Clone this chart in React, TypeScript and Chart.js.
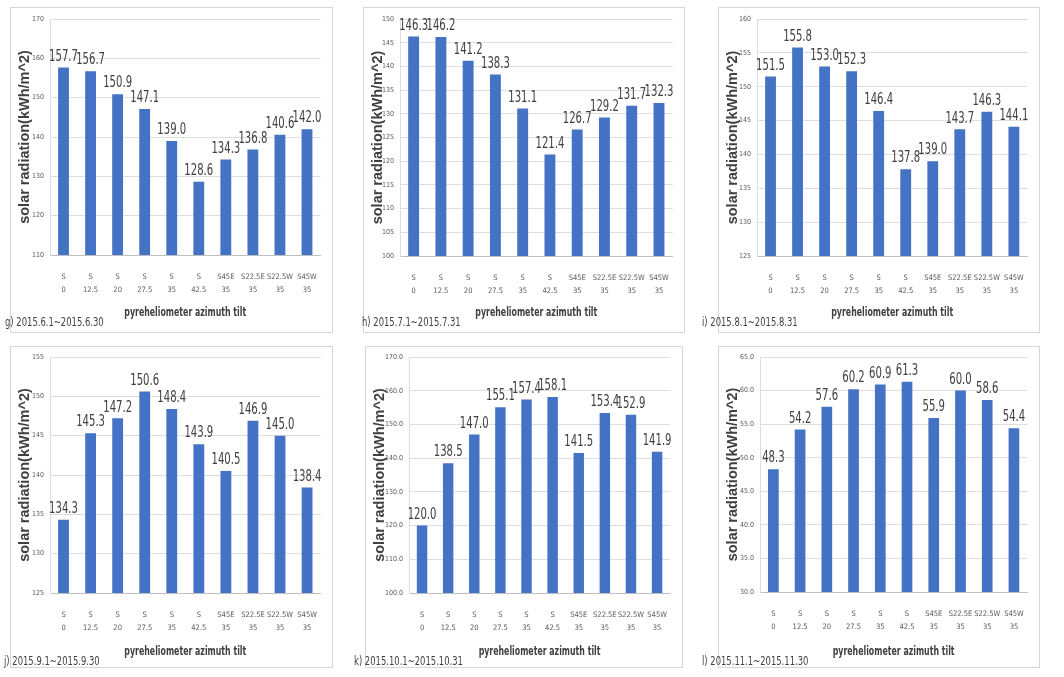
import React, { useEffect, useRef } from 'react';
import { Chart, registerables } from 'chart.js';

Chart.register(...registerables);

// ---------------- data ----------------
const categories: string[][] = [
  ['S', '0'], ['S', '12.5'], ['S', '20'], ['S', '27.5'], ['S', '35'], ['S', '42.5'],
  ['S45E', '35'], ['S22.5E', '35'], ['S22.5W', '35'], ['S45W', '35'],
];

const juneValues = [157.7, 156.7, 150.9, 147.1, 139.0, 128.6, 134.3, 136.8, 140.6, 142.0];
const julyValues = [146.3, 146.2, 141.2, 138.3, 131.1, 121.4, 126.7, 129.2, 131.7, 132.3];
const augustValues = [151.5, 155.8, 153.0, 152.3, 146.4, 137.8, 139.0, 143.7, 146.3, 144.1];
const septemberValues = [134.3, 145.3, 147.2, 150.6, 148.4, 143.9, 140.5, 146.9, 145.0, 138.4];
const octoberValues = [120.0, 138.5, 147.0, 155.1, 157.4, 158.1, 141.5, 153.4, 152.9, 141.9];
const novemberValues = [48.3, 54.2, 57.6, 60.2, 60.9, 61.3, 55.9, 60.0, 58.6, 54.4];

const captions = [
  'g) 2015.6.1~2015.6.30',
  'h) 2015.7.1~2015.7.31',
  'i) 2015.8.1~2015.8.31',
  'j) 2015.9.1~2015.9.30',
  'k) 2015.10.1~2015.10.31',
  'l) 2015.11.1~2015.11.30',
];

const yMins = [110, 100, 125, 125, 100, 30];
const yMaxs = [170, 150, 160, 155, 170, 65];
const ySteps = [10, 5, 5, 5, 10, 5];
const yDecimals = [0, 0, 0, 0, 1, 1];

const yTitle = 'solar radiation(kWh/m^2)';
const xTitle = 'pyreheliometer azimuth tilt';

const seriesList = [juneValues, julyValues, augustValues, septemberValues, octoberValues, novemberValues];

// ---------------- layout ----------------
type Rect = { l: number; t: number; r: number; b: number };
const boxes: Rect[] = [
  { l: 10, t: 7, r: 333, b: 333 },
  { l: 363, t: 7, r: 685, b: 333 },
  { l: 718, t: 7, r: 1040, b: 333 },
  { l: 10, t: 346, r: 333, b: 668 },
  { l: 365, t: 346, r: 683, b: 668 },
  { l: 718, t: 346, r: 1040, b: 668 },
];
const plots: Rect[] = [
  { l: 50, t: 19, r: 328, b: 255 },
  { l: 400, t: 19, r: 680, b: 256 },
  { l: 757, t: 19, r: 1033, b: 256 },
  { l: 50, t: 357, r: 330, b: 593 },
  { l: 409, t: 357, r: 680, b: 593 },
  { l: 760, t: 357, r: 1034, b: 592 },
];
const captionPos = [
  { x: 5, y: 314 },
  { x: 362, y: 314 },
  { x: 702, y: 314 },
  { x: 4, y: 653 },
  { x: 354, y: 653 },
  { x: 702, y: 653 },
];
const xTitleOffset = [20, 20, 20, 16, 16, 16];

const COND = "'DejaVu Sans Condensed', 'Liberation Sans Narrow', sans-serif";
const SANS = "'Liberation Sans', Arial, sans-serif";
const BAR = '#4472c4';
const TEXT = '#404040';

const valueLabels = {
  id: 'valueLabels',
  afterDatasetsDraw(chart: any) {
    const { ctx } = chart;
    const meta = chart.getDatasetMeta(0);
    const data = chart.data.datasets[0].data as number[];
    ctx.save();
    ctx.font = `16px ${COND}`;
    ctx.fillStyle = TEXT;
    ctx.textAlign = 'center';
    ctx.textBaseline = 'bottom';
    meta.data.forEach((el: any, i: number) => {
      ctx.save();
      ctx.translate(el.x, el.y - 3);
      ctx.scale(0.7, 1);
      ctx.fillText(Number(data[i]).toFixed(1), 0, 0);
      ctx.restore();
    });
    ctx.restore();
  },
};

const xAxisTitle = {
  id: 'xAxisTitle',
  afterDraw(chart: any, _args: any, opts: any) {
    const { ctx, chartArea } = chart;
    ctx.save();
    ctx.font = `bold 13px ${COND}`;
    ctx.fillStyle = TEXT;
    ctx.textAlign = 'center';
    ctx.textBaseline = 'middle';
    ctx.translate((chartArea.left + chartArea.right) / 2, chart.height - opts.offset);
    ctx.scale(0.67, 1);
    ctx.fillText(opts.text, 0, 0);
    ctx.restore();
  },
};

function Panel({ idx }: { idx: number }) {
  const ref = useRef<HTMLCanvasElement | null>(null);
  const box = boxes[idx];
  const plot = plots[idx];
  const w = box.r - box.l;
  const h = box.b - box.t;

  useEffect(() => {
    if (!ref.current) return;
    const dec = yDecimals[idx];
    const chart = new Chart(ref.current, {
      type: 'bar',
      data: {
        labels: categories,
        datasets: [
          {
            data: seriesList[idx],
            backgroundColor: BAR,
            borderWidth: 0,
            barPercentage: 0.4,
            categoryPercentage: 1,
          },
        ],
      },
      options: {
        responsive: false,
        animation: false,
        devicePixelRatio: 1,
        layout: {
          padding: { top: plot.t - box.t, right: box.r - plot.r, left: 0, bottom: 0 },
        },
        plugins: {
          legend: { display: false },
          tooltip: { enabled: false },
          xAxisTitle: { text: xTitle, offset: xTitleOffset[idx] },
        },
        scales: {
          x: {
            grid: { display: false, drawTicks: false },
            border: { display: true, color: '#bfbfbf', width: 1 },
            ticks: {
              color: '#595959',
              font: { family: COND, size: 7.5, lineHeight: 1.7 },
              padding: 16,
              maxRotation: 0,
              autoSkip: false,
            },
            afterFit: (s: any) => {
              s.height = box.b - plot.b;
            },
          },
          y: {
            min: yMins[idx],
            max: yMaxs[idx],
            grid: { color: '#dedede', drawTicks: false },
            border: { display: true, color: '#dedede' },
            ticks: {
              stepSize: ySteps[idx],
              color: '#595959',
              font: { family: COND, size: 7 },
              padding: 6,
              callback: (v: any) => Number(v).toFixed(dec),
            },
            title: {
              display: true,
              text: yTitle,
              color: TEXT,
              font: { family: SANS, size: 14.5, weight: 'bold' },
              padding: { top: 6, bottom: 0 },
            },
            afterFit: (s: any) => {
              s.width = plot.l - box.l;
            },
          },
        },
      },
      plugins: [valueLabels, xAxisTitle],
    } as any);
    return () => chart.destroy();
  }, [idx]);

  return (
    <>
      <div
        style={{
          position: 'absolute',
          left: box.l,
          top: box.t,
          width: w,
          height: h,
          boxSizing: 'border-box',
          border: '1px solid #d6d6d6',
        }}
      />
      <canvas
        ref={ref}
        width={w}
        height={h}
        style={{ position: 'absolute', left: box.l, top: box.t, width: w, height: h }}
      />
      <div
        style={{
          position: 'absolute',
          left: captionPos[idx].x,
          top: captionPos[idx].y,
          font: `13px ${COND}`,
          color: TEXT,
          whiteSpace: 'nowrap',
          lineHeight: '15px',
          transform: 'scaleX(0.72)',
          transformOrigin: 'left center',
        }}
      >
        {captions[idx]}
      </div>
    </>
  );
}

export default function App() {
  return (
    <div
      style={{
        position: 'absolute',
        left: 0,
        top: 0,
        width: 1064,
        height: 677,
        background: '#ffffff',
        overflow: 'hidden',
      }}
    >
      {captions.map((_, i) => (
        <Panel key={i} idx={i} />
      ))}
    </div>
  );
}
